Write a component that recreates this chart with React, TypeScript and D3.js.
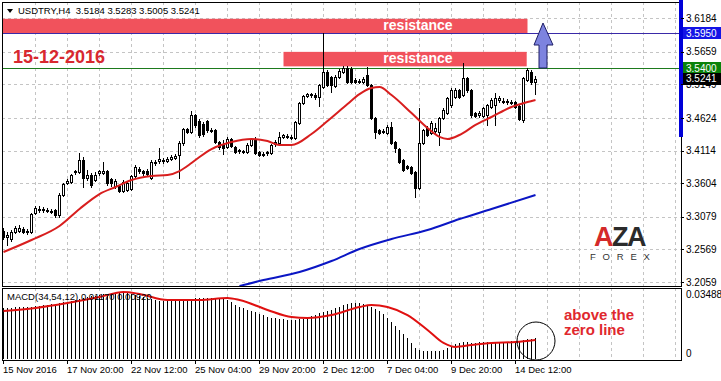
import React from 'react';
import * as d3 from 'd3';

const W = 721;
const H = 381;

// OHLC of USDTRY H4 bars
const opens = [3.2856,3.2763,3.2731,3.2841,3.2856,3.2888,3.2856,3.2841,3.3138,3.3201,3.3201,3.3185,3.3169,3.3185,3.3107,3.3420,3.3607,3.3623,3.3780,3.3780,3.3967,3.3686,3.3733,3.3654,3.3764,3.3764,3.3795,3.3670,3.3560,3.3560,3.3482,3.3498,3.3513,3.3717,3.3826,3.3795,3.3795,3.3686,3.3920,3.3951,3.3951,3.3951,3.3983,3.3999,3.4046,3.4233,3.4452,3.4406,3.4671,3.4577,3.4530,3.4577,3.4437,3.4437,3.4249,3.4202,3.4171,3.4296,3.4171,3.4124,3.4108,3.4093,3.4202,3.4296,3.4093,3.4061,3.4077,3.4077,3.4217,3.4233,3.4328,3.4328,3.4312,3.4312,3.4546,3.4859,3.4968,3.4999,3.4984,3.4953,3.5109,3.5344,3.5266,3.5125,3.5266,3.5344,3.5407,3.5391,3.5219,3.5203,3.5188,3.5297,3.5140,3.4624,3.4437,3.4421,3.4390,3.4484,3.4249,3.4139,3.3967,3.3873,3.3858,3.3780,3.3529,3.4233,3.4468,3.4390,3.4421,3.4406,3.4624,3.4702,3.4828,3.4953,3.5062,3.4984,3.5250,3.5062,3.4702,3.4671,3.4655,3.4671,3.4797,3.4828,3.4906,3.4890,3.4890,3.4875,3.4875,3.4812,3.4593,3.5219,3.5344,3.5184];
const highs = [3.2904,3.2841,3.2872,3.2935,3.2951,3.2920,3.2888,3.3138,3.3248,3.3248,3.3232,3.3217,3.3201,3.3201,3.3451,3.3607,3.3670,3.3748,3.3811,3.4077,3.4015,3.3811,3.3764,3.3780,3.3811,3.3936,3.3811,3.3686,3.3670,3.3576,3.3654,3.3638,3.3733,3.3889,3.3858,3.3811,3.3826,3.3967,3.3967,3.4155,3.3999,3.4015,3.4046,3.4061,3.4264,3.4468,3.4468,3.4733,3.4686,3.4608,3.4562,3.4593,3.4468,3.4452,3.4264,3.4280,3.4328,3.4312,3.4186,3.4139,3.4124,3.4233,3.4312,3.4328,3.4108,3.4093,3.4108,3.4217,3.4280,3.4406,3.4374,3.4374,3.4359,3.4577,3.4875,3.4984,3.5015,3.5015,3.5015,3.5156,3.5954,3.5375,3.5281,3.5297,3.5391,3.5438,3.5438,3.5422,3.5250,3.5235,3.5266,3.5422,3.5156,3.4640,3.4452,3.4452,3.4515,3.4562,3.4264,3.4155,3.3983,3.3889,3.3873,3.3795,3.4781,3.4452,3.4499,3.4577,3.4546,3.4640,3.4781,3.4953,3.5094,3.5094,3.5078,3.5485,3.5266,3.5078,3.4718,3.4733,3.4797,3.4843,3.4937,3.5015,3.4968,3.4937,3.4921,3.4906,3.4890,3.4828,3.5266,3.5407,3.5375,3.5283];
const lows = [3.2731,3.2638,3.2700,3.2825,3.2841,3.2825,3.2809,3.2825,3.3122,3.3154,3.3154,3.3154,3.3138,3.3076,3.3076,3.3404,3.3591,3.3607,3.3748,3.3764,3.3545,3.3654,3.3545,3.3638,3.3733,3.3748,3.3576,3.3560,3.3529,3.3467,3.3467,3.3482,3.3498,3.3701,3.3764,3.3733,3.3717,3.3670,3.3889,3.3920,3.3920,3.3936,3.3967,3.3983,3.3686,3.4202,3.4390,3.4390,3.4484,3.4328,3.4343,3.4406,3.4406,3.4233,3.4139,3.4061,3.4155,3.4171,3.4077,3.4077,3.4077,3.4077,3.4186,3.4061,3.4030,3.4030,3.4046,3.4061,3.4186,3.4217,3.4312,3.4312,3.4296,3.4296,3.4530,3.4843,3.4953,3.4953,3.4921,3.4812,3.5094,3.5125,3.5031,3.5109,3.5250,3.5328,3.5172,3.5172,3.5172,3.5172,3.5172,3.5125,3.4608,3.4312,3.4374,3.4390,3.4374,3.4217,3.4093,3.3920,3.3795,3.3826,3.3748,3.3389,3.3513,3.4217,3.4343,3.4374,3.4390,3.4202,3.4608,3.4686,3.4797,3.4937,3.4937,3.4968,3.5031,3.4640,3.4640,3.4640,3.4640,3.4515,3.4781,3.4515,3.4875,3.4859,3.4843,3.4843,3.4781,3.4593,3.4562,3.5203,3.5156,3.5005];
const closes = [3.2763,3.2794,3.2841,3.2904,3.2904,3.2841,3.2841,3.3122,3.3217,3.3193,3.3185,3.3169,3.3170,3.3107,3.3420,3.3591,3.3638,3.3733,3.3795,3.3967,3.3686,3.3733,3.3576,3.3733,3.3795,3.3795,3.3607,3.3607,3.3638,3.3482,3.3623,3.3607,3.3717,3.3858,3.3795,3.3764,3.3748,3.3936,3.3936,3.3983,3.3967,3.3983,3.4015,3.4030,3.4233,3.4452,3.4406,3.4671,3.4515,3.4359,3.4374,3.4437,3.4421,3.4249,3.4171,3.4155,3.4296,3.4186,3.4093,3.4108,3.4093,3.4202,3.4296,3.4077,3.4046,3.4046,3.4093,3.4202,3.4249,3.4328,3.4359,3.4343,3.4328,3.4562,3.4859,3.4968,3.4999,3.4984,3.4953,3.5140,3.5344,3.5140,3.5140,3.5266,3.5359,3.5407,3.5188,3.5188,3.5188,3.5188,3.5235,3.5140,3.4624,3.4406,3.4390,3.4406,3.4484,3.4233,3.4155,3.3936,3.3811,3.3842,3.3764,3.3529,3.4233,3.4437,3.4359,3.4546,3.4468,3.4624,3.4749,3.4937,3.5062,3.5062,3.4953,3.5250,3.5062,3.4671,3.4655,3.4702,3.4781,3.4828,3.4906,3.4937,3.4937,3.4891,3.4875,3.4876,3.4797,3.4608,3.5250,3.5375,3.5188,3.5241];

// red moving average (bar index, price)
const redMaIdx = [0,7,14,19,24,28,32,37,41,44,47,49,52,57,62,66,69,72,77,81,86,89,92,94,97,102,106,109,111,114,118,122,127,131,133];
const redMaVal = [3.2528,3.2716,3.2935,3.3201,3.3435,3.3545,3.3654,3.3717,3.3733,3.3795,3.3920,3.4015,3.4139,3.4249,3.4296,3.4264,3.4202,3.4202,3.4374,3.4577,3.4843,3.4999,3.5094,3.5109,3.4984,3.4702,3.4468,3.4328,3.4296,3.4359,3.4515,3.4640,3.4797,3.4875,3.4906];
// blue moving average
const blueMaIdx = [59,65,74,82,89,97,106,114,122,133];
const blueMaVal = [3.1996,3.2090,3.2215,3.2387,3.2575,3.2731,3.2872,3.3044,3.3201,3.3420];

// MACD histogram per bar
const macdHist = [0.0273,0.0273,0.0273,0.0278,0.0278,0.0278,0.0278,0.0278,0.0283,0.0283,0.0289,0.0289,0.0294,0.0294,0.0300,0.0305,0.0305,0.0311,0.0316,0.0322,0.0327,0.0332,0.0338,0.0338,0.0343,0.0349,0.0349,0.0354,0.0354,0.0354,0.0354,0.0354,0.0349,0.0343,0.0338,0.0332,0.0327,0.0322,0.0316,0.0311,0.0311,0.0311,0.0311,0.0311,0.0316,0.0316,0.0316,0.0322,0.0327,0.0327,0.0327,0.0327,0.0327,0.0327,0.0322,0.0322,0.0316,0.0305,0.0289,0.0278,0.0273,0.0262,0.0256,0.0251,0.0240,0.0234,0.0223,0.0218,0.0218,0.0213,0.0213,0.0207,0.0207,0.0207,0.0213,0.0213,0.0218,0.0229,0.0234,0.0245,0.0251,0.0256,0.0262,0.0273,0.0278,0.0289,0.0294,0.0300,0.0300,0.0300,0.0294,0.0289,0.0278,0.0267,0.0256,0.0240,0.0218,0.0196,0.0174,0.0153,0.0131,0.0109,0.0082,0.0055,0.0044,0.0038,0.0038,0.0038,0.0038,0.0038,0.0044,0.0055,0.0065,0.0076,0.0082,0.0087,0.0087,0.0082,0.0082,0.0087,0.0087,0.0087,0.0087,0.0087,0.0087,0.0087,0.0087,0.0093,0.0087,0.0087,0.0098,0.0104,0.0104,0.0109];
// MACD signal (bar index, value)
const sigIdx = [0,8,16,24,30,34,41,49,56,59,66,72,76,82,89,92,96,101,106,110,113,117,122,128,133];
const sigVal = [0.0256,0.0273,0.0300,0.0332,0.0360,0.0349,0.0316,0.0316,0.0327,0.0316,0.0262,0.0223,0.0218,0.0234,0.0278,0.0289,0.0278,0.0234,0.0153,0.0082,0.0060,0.0071,0.0082,0.0087,0.0098];

const priceTicks = [3.6184, 3.5659, 3.5149, 3.4624, 3.4114, 3.3604, 3.3079, 3.2569, 3.2059];
const dateLabels = ['15 Nov 2016', '17 Nov 20:00', '22 Nov 12:00', '25 Nov 04:00', '29 Nov 20:00', '2 Dec 12:00', '7 Dec 04:00', '9 Dec 20:00', '14 Dec 12:00'];
const dateIdx = [0, 16, 32, 48, 64, 80, 96, 112, 128];
const macdTicks = [0.03488, 0];
const resistanceTop = 3.5950;
const resistanceLow = 3.5400;
const lastPrice = 3.5241;
const boxTopRange = [3.6176, 3.5950];
const boxLowRange = [3.5659, 3.5432];
const boxTopIdx = [0, 131];
const boxLowIdx = [70, 130.8];

const FONT = "'Liberation Sans', Arial, sans-serif";

export default function App() {
  const left = 2, right = 681, top = 2, mainBottom = 286, macdTop = 288, macdBottom = 360;
  const x = d3.scaleLinear().domain([0, 1]).range([3.5, 7.5]);
  const y = d3.scaleLinear().domain([3.2059, 3.6184]).range([282, 18.3]);
  const ym = d3.scaleLinear().domain([0, 0.03488]).range([358, 294]);
  const r = (v: number) => Math.round(v) + 0.5;

  const vGrid = d3.range(8, 170, 8).map((i) => x(i)).filter((v) => v < right);

  const redLine = d3.line<number>().x((_, k) => x(redMaIdx[k])).y((v) => y(v)).curve(d3.curveMonotoneX)(redMaVal) || '';
  const blueLine = d3.line<number>().x((_, k) => x(blueMaIdx[k])).y((v) => y(v)).curve(d3.curveMonotoneX)(blueMaVal) || '';
  const sigLine = d3.line<number>().x((_, k) => x(sigIdx[k])).y((v) => ym(v)).curve(d3.curveMonotoneX)(sigVal) || '';

  const candles = opens.map((o, i) => {
    const c = closes[i];
    const cx = x(i);
    const yt = Math.round(y(Math.max(o, c)));
    let yb = Math.round(y(Math.min(o, c)));
    if (yb - yt < 1) yb = yt + 1;
    const bull = c >= o;
    const hi = Math.round(y(highs[i]));
    const lo = Math.round(y(lows[i]));
    return (
      <g key={i}>
        <line x1={cx} x2={cx} y1={hi} y2={lo + 1} stroke="#000" strokeWidth={1} />
        <rect x={cx - 1.5} y={yt} width={3} height={yb - yt + 1} fill="#000" />
        {bull && yb - yt > 1 && <rect x={cx - 0.5} y={yt + 1} width={1} height={yb - yt - 1} fill="#fff" />}
      </g>
    );
  });

  const levelBoxes = [
    { v: resistanceTop, bg: '#1414e6' },
    { v: resistanceLow, bg: '#0a820a' },
    { v: lastPrice, bg: '#000000' },
  ];

  return (
    <svg width={W} height={H} style={{ position: 'absolute', left: 0, top: 0, background: '#fff' }} fontFamily={FONT}>
      <defs>
        <clipPath id="mainClip"><rect x={left} y={top} width={right - left} height={mainBottom - top} /></clipPath>
        <clipPath id="macdClip"><rect x={left} y={macdTop} width={right - left} height={macdBottom - macdTop} /></clipPath>
      </defs>
      <rect x={0} y={0} width={W} height={H} fill="#fff" />

      {/* grids */}
      <g stroke="#c4c4c4" strokeDasharray="3,3" strokeWidth={1} shapeRendering="crispEdges">
        {priceTicks.map((p) => (
          <line key={p} x1={left} x2={right} y1={r(y(p))} y2={r(y(p))} />
        ))}
        {vGrid.map((gx) => (
          <line key={'m' + gx} x1={gx} x2={gx} y1={top} y2={mainBottom} />
        ))}
        {vGrid.map((gx) => (
          <line key={'d' + gx} x1={gx} x2={gx} y1={macdTop} y2={macdBottom} />
        ))}
      </g>

      <g clipPath="url(#mainClip)">
        {/* resistance boxes */}
        <rect x={x(boxTopIdx[0]) - 2} y={y(boxTopRange[0])} width={x(boxTopIdx[1]) - x(boxTopIdx[0]) + 2} height={y(boxTopRange[1]) - y(boxTopRange[0])} fill="#f1525c" />
        <rect x={x(boxLowIdx[0])} y={y(boxLowRange[0])} width={x(boxLowIdx[1]) - x(boxLowIdx[0])} height={y(boxLowRange[1]) - y(boxLowRange[0])} fill="#f1525c" />
        <text x={418} y={y(boxTopRange[1]) - 3.5} fill="#fff" fontSize={14} fontWeight="bold" textAnchor="middle">resistance</text>
        <text x={418} y={y(boxLowRange[1]) - 3} fill="#fff" fontSize={14} fontWeight="bold" textAnchor="middle">resistance</text>

        {/* level lines */}
        <line x1={left} x2={right} y1={r(y(resistanceTop))} y2={r(y(resistanceTop))} stroke="#3a2aa8" strokeWidth={1} shapeRendering="crispEdges" />
        <line x1={left} x2={right} y1={r(y(resistanceLow))} y2={r(y(resistanceLow))} stroke="#1d7a1d" strokeWidth={1} shapeRendering="crispEdges" />

        <g shapeRendering="crispEdges">{candles}</g>
        <path d={blueLine} fill="none" stroke="#0b16c4" strokeWidth={2} />
        <path d={redLine} fill="none" stroke="#d81e1e" strokeWidth={2} />

        {/* arrow */}
        <polygon points="543,23 553,45 547,45 547,68 539,68 539,45 534,45" fill="#7d83df" stroke="#1e1e66" strokeWidth={1} />

        {/* date title */}
        <text x={13} y={63} fill="#d8282f" fontSize={18} fontWeight="bold">15-12-2016</text>

        {/* header */}
        <polygon points="7,9 13,9 10,13" fill="#000" />
        <text x={18} y={14} fontSize={9.5} fill="#000" style={{ whiteSpace: 'pre' }}>{'USDTRY,H4  3.5184 3.5283 3.5005 3.5241'}</text>

        {/* logo */}
        <text x={594} y={246} fontSize={27} fontWeight="bold" letterSpacing={-1.5}>
          <tspan fill="#d42a2a">A</tspan>
          <tspan fill="#2b2b2b">ZA</tspan>
        </text>
        <text x={590} y={260} fontSize={9.5} fill="#333" letterSpacing={6.8}>FOREX</text>
      </g>

      {/* MACD */}
      <g clipPath="url(#macdClip)">
        <g stroke="#000" strokeWidth={1} shapeRendering="crispEdges">
          {macdHist.map((v, i) => (
            <line key={i} x1={x(i)} x2={x(i)} y1={ym(0) + 1} y2={Math.round(ym(v))} />
          ))}
        </g>
        <path d={sigLine} fill="none" stroke="#e01010" strokeWidth={2} />
        <text x={7} y={300} fontSize={9.5} fill="#000" style={{ whiteSpace: 'pre' }}>{'MACD(34,54,12) 0.01170 0.00920'}</text>
        <circle cx={536} cy={341} r={19} fill="none" stroke="#000" strokeWidth={1} />
        <text x={564} y={320} fill="#e0282e" fontSize={15} fontWeight="bold">above the</text>
        <text x={564} y={335} fill="#e0282e" fontSize={15} fontWeight="bold">zero line</text>
      </g>

      {/* frames */}
      <g fill="none" stroke="#000" strokeWidth={1} shapeRendering="crispEdges">
        <rect x={left + 0.5} y={top + 0.5} width={right - left} height={mainBottom - top} />
        <rect x={left + 0.5} y={macdTop + 0.5} width={right - left} height={macdBottom - macdTop} />
      </g>
      <rect x={679} y={0} width={4} height={137} fill="#0000d8" />

      {/* price axis */}
      <g fontSize={10} fill="#000">
        {priceTicks.map((p) => (
          <g key={p}>
            <line x1={right} x2={right + 3} y1={r(y(p))} y2={r(y(p))} stroke="#000" shapeRendering="crispEdges" />
            <text x={686} y={y(p) + 3.5}>{p.toFixed(4)}</text>
          </g>
        ))}
        {levelBoxes.map((b) => (
          <g key={b.v}>
            <rect x={683} y={Math.round(y(b.v)) - 6} width={38} height={12} fill={b.bg} />
            <text x={686} y={y(b.v) + 3.5} fill="#fff">{b.v.toFixed(4)}</text>
          </g>
        ))}
      </g>

      {/* macd axis */}
      <g fontSize={10} fill="#000">
        {macdTicks.map((v) => (
          <text key={v} x={686} y={ym(v) + (v === 0 ? -1 : 3.5)}>{v === 0 ? '0' : v.toFixed(5)}</text>
        ))}
      </g>

      {/* date axis */}
      <g fontSize={9.5} fill="#000">
        {dateIdx.map((i, k) => (
          <g key={i}>
            <line x1={x(i)} x2={x(i)} y1={macdBottom} y2={macdBottom + 4} stroke="#000" shapeRendering="crispEdges" />
            <text x={x(i) - 0.5} y={373}>{dateLabels[k]}</text>
          </g>
        ))}
      </g>
    </svg>
  );
}
